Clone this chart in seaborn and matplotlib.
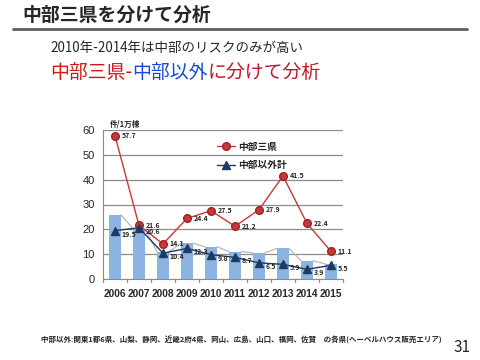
import numpy as np
import pandas as pd
import seaborn as sns
import matplotlib.pyplot as plt
from matplotlib.lines import Line2D

###### 中部三県 vs 中部以外 ######

years = ["2006", "2007", "2008", "2009", "2010", "2011", "2012", "2013", "2014", "2015"]
bar_values = [25.8, 20.3, 11.0, 14.4, 13.0, 11.0, 10.6, 12.3, 7.4, 6.1]
chubu3 = [57.7, 21.6, 14.1, 24.4, 27.5, 21.2, 27.9, 41.5, 22.4, 11.1]
other = [19.5, 20.6, 10.4, 12.3, 9.8, 8.7, 6.5, 5.9, 3.9, 5.5]

sns.set_style("white")
plt.rcParams['font.family'] = ['Noto Sans CJK JP', 'DejaVu Sans']

RED = "#C8383A"
NAVY = "#1F3A60"
BLUE = "#8DB3E2"

fig = plt.figure(figsize=(4.8, 3.6), dpi=100)

# header
fig.text(22/480, 1 - 15/360, "中部三県を分けて分析", fontsize=13.6, weight='bold',
         va='center', ha='left')
fig.add_artist(Line2D([13/480, 467/480], [1 - 29/360, 1 - 29/360],
                      color="#5f5f5f", lw=2))
fig.text(50/480, 1 - 48/360, "2010年-2014年は中部のリスクのみが高い", fontsize=9.7,
         va='center', ha='left')
parts = [("中部三県-", "#D01818"), ("中部以外", "#1848D8"), ("に分けて分析", "#C01828")]
x0 = 50/480
for txt, col in parts:
    t = fig.text(x0, 1 - 72/360, txt, fontsize=13.6, color=col, va='center', ha='left')
    fig.canvas.draw()
    bb = t.get_window_extent()
    x0 = bb.x1 / fig.bbox.width

ax = fig.add_axes([103/480, 81/360, 240/480, 149/360])

df = pd.DataFrame({"year": years, "bar": bar_values})
sns.barplot(data=df, x="year", y="bar", color=BLUE, saturation=1, width=0.5,
            linewidth=0, ax=ax, zorder=2)

# thin series lines between bar tops
w = 0.25
for i in range(len(years) - 1):
    ax.plot([i + w, i + 1 - w], [bar_values[i], bar_values[i + 1]],
            color="#b8b8b8", lw=0.9, zorder=2.5)

xs = np.arange(len(years))
ax.plot(xs, chubu3, color=RED, lw=1, marker='o', markersize=5.5,
        markerfacecolor=RED, markeredgecolor="#a02020", zorder=4, label="中部三県")
ax.plot(xs, other, color=NAVY, lw=1, marker='^', markersize=5.5,
        markerfacecolor=NAVY, markeredgecolor=NAVY, zorder=4, label="中部以外計")

for x, v in zip(xs, chubu3):
    ax.annotate(f"{v:.1f}", (x, v), xytext=(5, 0), textcoords='offset points',
                fontsize=5, weight='bold', va='center', ha='left', zorder=5)
for x, v in zip(xs, other):
    ax.annotate(f"{v:.1f}", (x, v), xytext=(5, -2.5), textcoords='offset points',
                fontsize=5, weight='bold', va='center', ha='left', zorder=5)

ax.set_ylim(0, 60)
ax.set_xlim(-0.5, len(years) - 0.5)
ax.set_yticks(range(0, 61, 10))
ax.yaxis.grid(True, color="#8c8c8c", lw=0.9, zorder=0)
ax.set_axisbelow(True)
ax.set_xlabel("")
ax.set_ylabel("")
for s in ["top", "right"]:
    ax.spines[s].set_visible(False)
ax.spines["left"].set_color("#8c8c8c")
ax.spines["bottom"].set_color("#8c8c8c")
ax.tick_params(axis='y', labelsize=8, length=0, pad=6)
ax.tick_params(axis='x', length=0, pad=7)
for lbl in ax.get_xticklabels():
    lbl.set_fontweight('bold')
    lbl.set_fontfamily('Liberation Sans')
    lbl.set_fontsize(7.3)
for lbl in ax.get_yticklabels():
    lbl.set_fontfamily('Liberation Sans')
# boundary tick marks on the category axis
for b in np.arange(-0.5, len(years), 1):
    ax.plot([b, b], [0, -1.4], color="#8c8c8c", lw=0.9, clip_on=False)

ax.text(0.03, 1.04, "件/1万棟", transform=ax.transAxes, fontsize=5.5, weight='bold',
        va='center', ha='left')

ax.legend(loc='upper left', bbox_to_anchor=(0.44, 0.98), frameon=False,
          labelspacing=0.9, handlelength=1.8, handletextpad=0.3,
          prop={'weight': 'bold', 'size': 7})

fig.text(41/480, 1 - 340/360,
         "中部以外:関東1都6県、山梨、静岡、近畿2府4県、岡山、広島、山口、福岡、佐賀　の各県(ヘーベルハウス販売エリア)",
         fontsize=5.4, weight='bold', va='center', ha='left')
fig.text(462/480, 1 - 347/360, "31", fontsize=11, va='center', ha='center')

plt.savefig("out.png", dpi=100)
plt.close()
